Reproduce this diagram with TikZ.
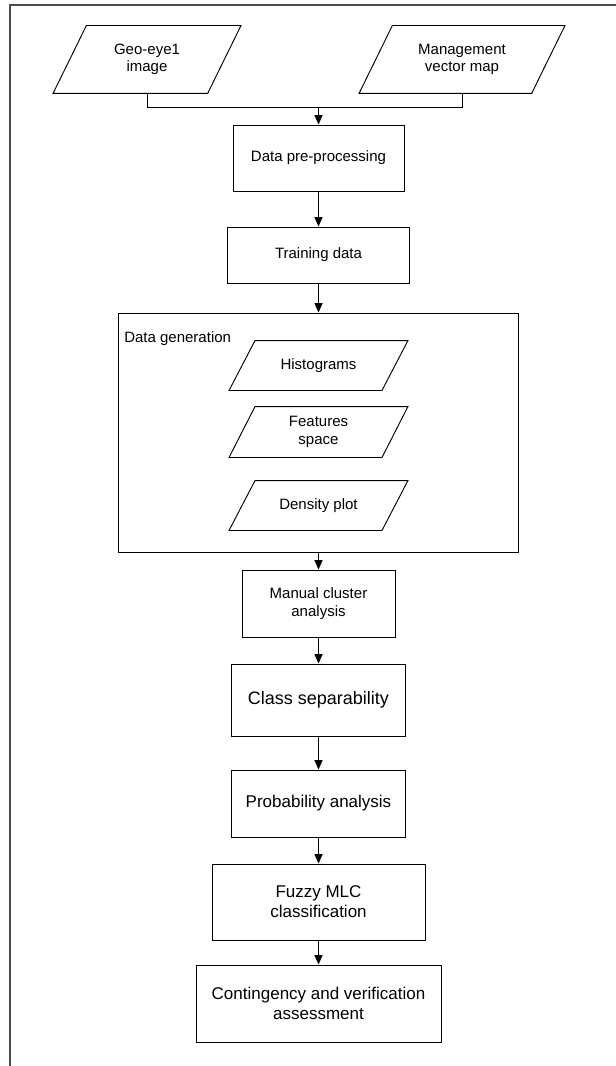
\documentclass[tikz,border=0pt]{standalone}
\usepackage{fontspec}
\setmainfont{Liberation Sans}
\usetikzlibrary{arrows.meta}

\newcommand{\slantframe}[2]{\draw[line width=0.7pt] ([xshift=#2]#1.north west) -- (#1.north east) -- ([xshift=-#2]#1.south east) -- (#1.south west) -- cycle;}

\begin{document}
\begin{tikzpicture}[x=0.75pt, y=-0.75pt,
        box/.style={draw, line width=0.7pt, align=center, inner sep=2pt, font=\fontsize{11.25}{13}\selectfont},
        bigbox/.style={box, font=\fontsize{12.75}{15}\selectfont},
        io/.style={box, draw=none},
        arr/.style={line width=0.7pt, -{Triangle[length=7pt, width=6pt]}}]
            \useasboundingbox (0,0) rectangle (616,1066);
            \draw[black!70, line width=0.9pt] (616,5) -- (10,5) -- (10,1066);

            \node[io, minimum width=140.25pt, minimum height=50.25pt] (geo) at (147,59.5) {Geo-eye1\\image};
            \node[io, minimum width=153.75pt, minimum height=50.25pt] (mgmt) at (462,59.5) {Management\\vector map};
            \slantframe{geo}{25pt}
            \slantframe{mgmt}{25pt}
            \coordinate (join) at (318.5,107);
            \node[box, minimum width=128.25pt, minimum height=49.5pt] (pre) at (318.5,158) {Data pre-processing};
            \node[box, minimum width=136.5pt, minimum height=42pt] (train) at (318.5,255) {Training data};

            \node[box, minimum width=300pt, minimum height=179.25pt] (gen) at (318.5,432.5) {};
            \node[anchor=west, inner sep=0pt, font=\fontsize{11.25}{13}\selectfont] (genlabel) at ([xshift=4.5pt, yshift=-19.5pt]gen.north west) {Data generation};
            \node[io, minimum width=133.5pt, minimum height=36.75pt] (hist) at (318.5,365.5) {Histograms};
            \node[io, minimum width=133.5pt, minimum height=37.5pt] (feat) at (318.5,432) {Features\\space};
            \node[io, minimum width=133.5pt, minimum height=36.75pt] (dens) at (318.5,505.5) {Density plot};
            \slantframe{hist}{19.5pt}
            \slantframe{feat}{19.5pt}
            \slantframe{dens}{19.5pt}

            \node[box, minimum width=114.75pt, minimum height=50.25pt] (manual) at (318.5,603.5) {Manual cluster\\analysis};
            \node[box, minimum width=130.5pt, minimum height=54pt, font=\fontsize{13.5}{16}\selectfont] (class) at (318.5,700) {Class separability};
            \node[bigbox, minimum width=130.5pt, minimum height=50.25pt] (prob) at (318.5,803.5) {Probability analysis};
            \node[bigbox, minimum width=159.75pt, minimum height=57pt] (fuzzy) at (318.5,902) {Fuzzy MLC\\classification};
            \node[bigbox, minimum width=183.75pt, minimum height=57.75pt] (cont) at (318.5,1003.5) {Contingency and verification\\assessment};

            \draw[line width=0.7pt] (geo.south) |- (mgmt.south |- join) -- (mgmt.south);
            \draw[arr] (join) -- (pre.north);
            \draw[arr] (pre) -- (train);
            \draw[arr] (train) -- (gen);
            \draw[arr] (gen) -- (manual);
            \draw[arr] (manual) -- (class);
            \draw[arr] (class) -- (prob);
            \draw[arr] (prob) -- (fuzzy);
            \draw[arr] (fuzzy) -- (cont);
        \end{tikzpicture}
\end{document}
